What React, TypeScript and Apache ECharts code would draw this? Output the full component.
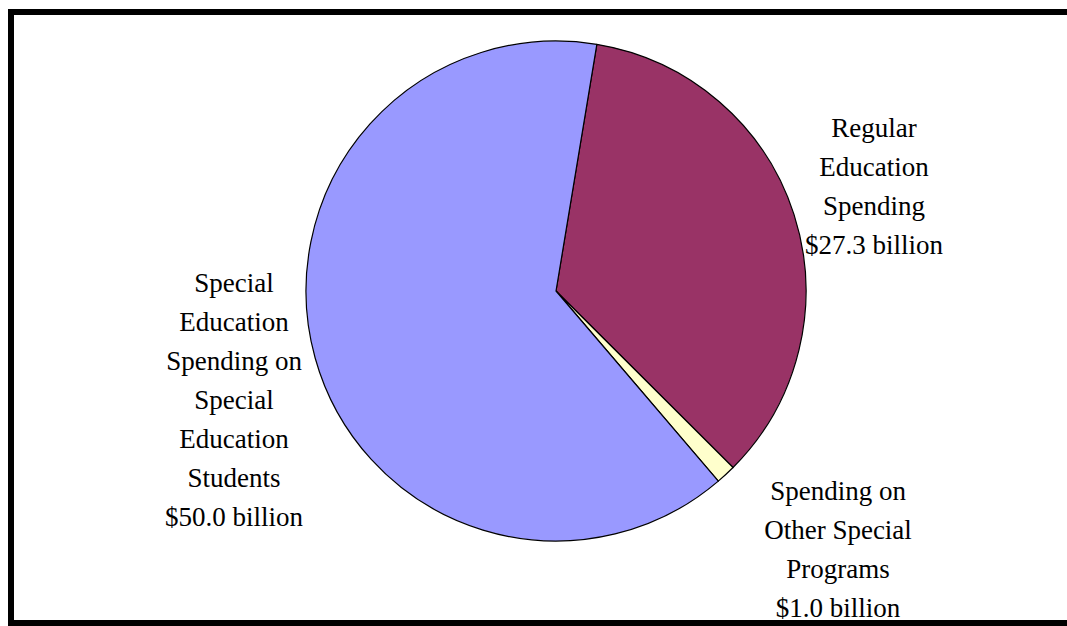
import React, { useEffect, useRef } from "react";
import * as echarts from "echarts";

const categories = [
  "Regular\nEducation\nSpending",
  "Spending on\nOther Special\nPrograms",
  "Special\nEducation\nSpending on\nSpecial\nEducation\nStudents",
];
const values = [27.3, 1.0, 50.0];
const colors = ["#993366", "#FFFFCC", "#9999FF"];
const labelCenters: [number, number][] = [
  [874, 186],
  [838, 549],
  [234, 400],
];

export default function App() {
  const ref = useRef<HTMLDivElement>(null);
  useEffect(() => {
    if (!ref.current) return;
    const chart = echarts.init(ref.current, null, { renderer: "svg" });
    chart.setOption({
      animation: false,
      backgroundColor: "#ffffff",
      textStyle: { fontFamily: "Liberation Serif" },
      graphic: [
        {
          type: "rect",
          shape: { x: 11, y: 12, width: 1080, height: 611 },
          style: { fill: "none", stroke: "#000", lineWidth: 6 },
          silent: true,
          z: 10,
        },
      ],
      series: [
        {
          type: "pie",
          center: [556, 291],
          radius: [0, 250],
          startAngle: 80.6,
          clockwise: true,
          avoidLabelOverlap: false,
          itemStyle: { borderColor: "#000", borderWidth: 1.2 },
          label: {
            show: true,
            position: "outside",
            fontFamily: "Liberation Serif",
            fontSize: 27,
            lineHeight: 39,
            color: "#000",
            align: "center",
            formatter: (p: any) => `${p.name}\n$${p.value.toFixed(1)} billion`,
          },
          labelLine: { show: false },
          labelLayout: (params: any) => {
            const c = labelCenters[params.dataIndex];
            return { x: c[0], y: c[1], align: "center", verticalAlign: "middle" };
          },
          emphasis: { disabled: true },
          data: categories.map((name, i) => ({
            name,
            value: values[i],
            itemStyle: { color: colors[i] },
          })),
        },
      ],
    });
    return () => chart.dispose();
  }, []);
  return (
    <div
      ref={ref}
      style={{ position: "fixed", left: 0, top: 0, width: 1067, height: 626 }}
    />
  );
}
